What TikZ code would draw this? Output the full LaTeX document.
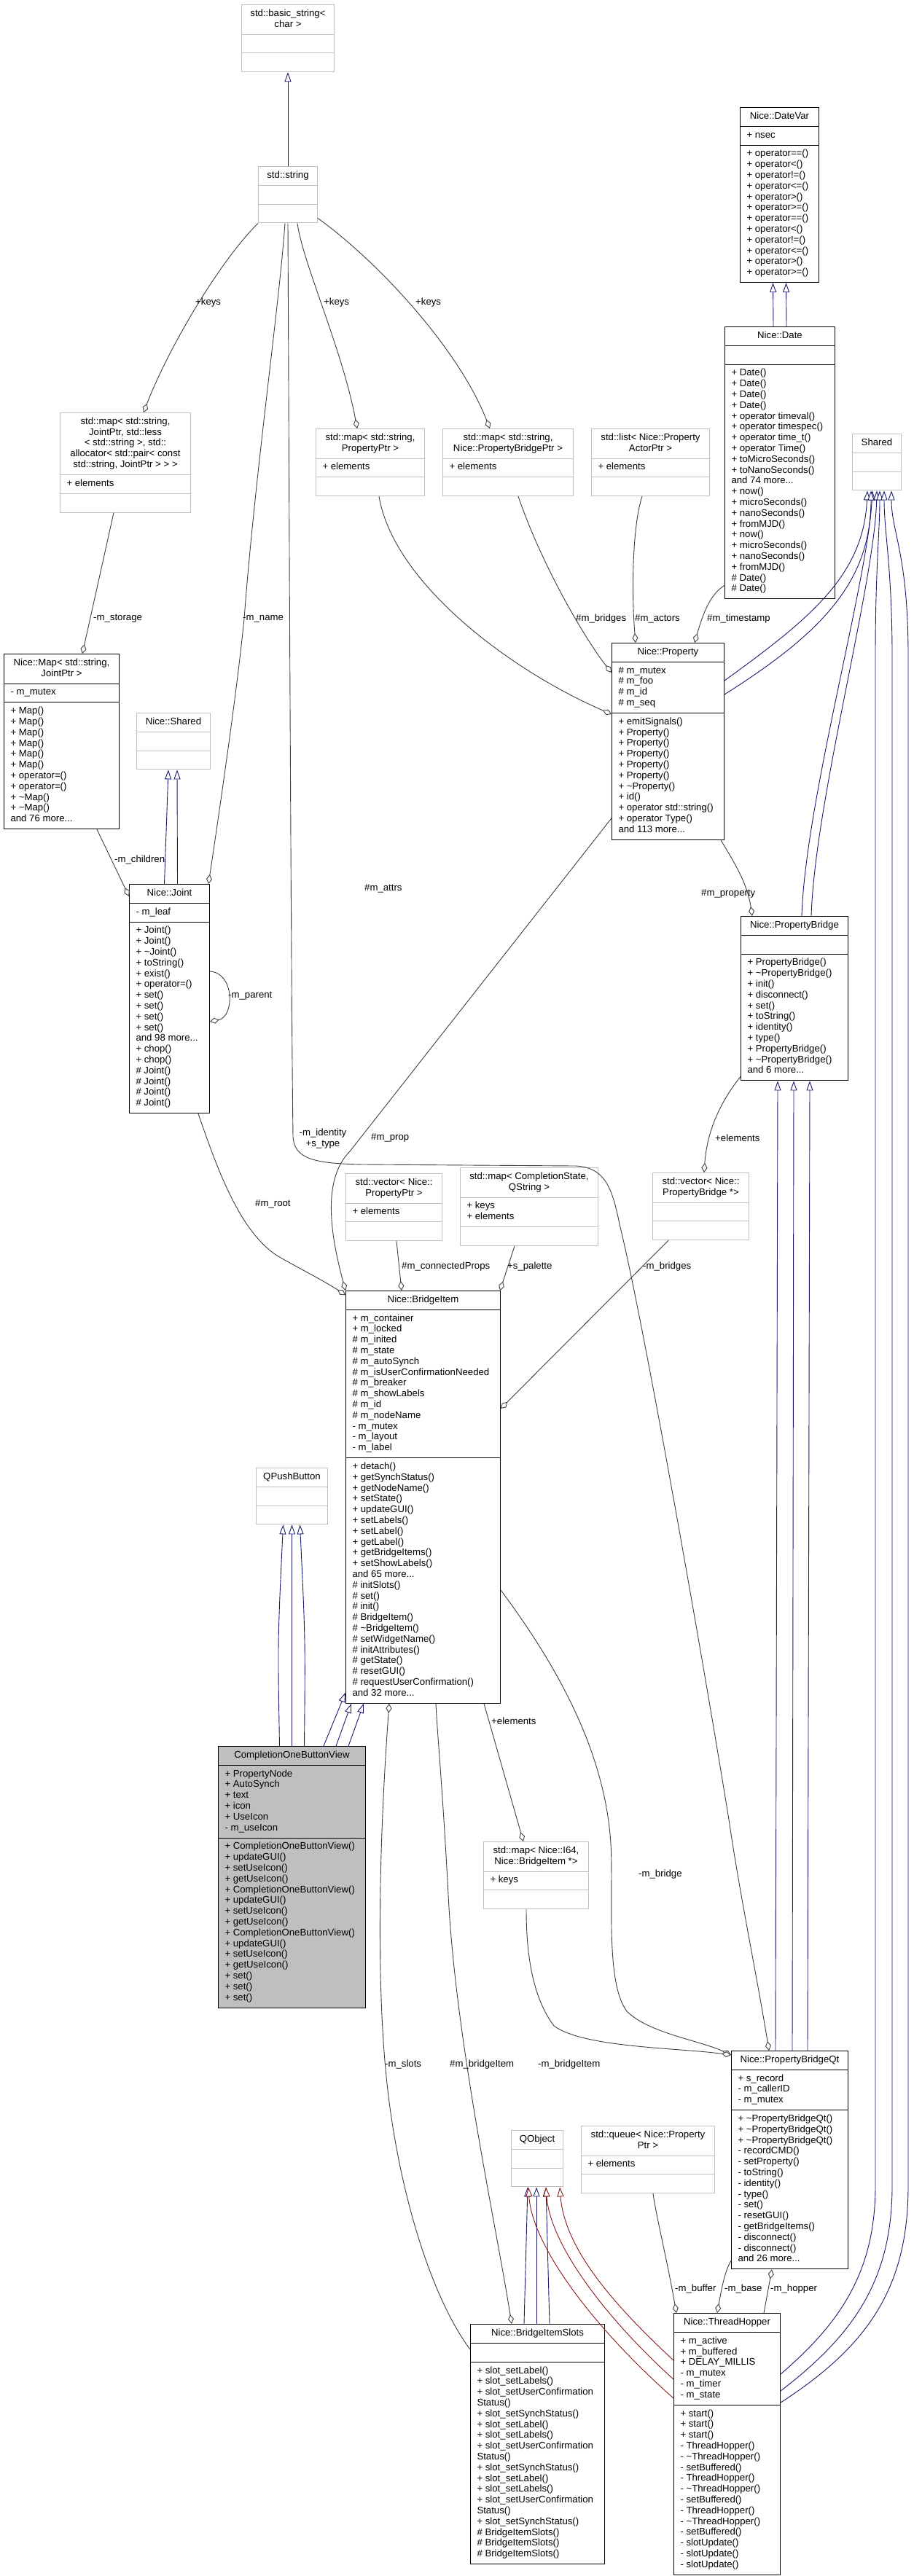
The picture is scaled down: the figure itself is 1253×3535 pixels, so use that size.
\documentclass[tikz,border=0pt]{standalone}
\usepackage{fontspec}
\newfontfamily\dxfont{Liberation Sans}
\usepackage{tikz}
\usetikzlibrary{arrows.meta, shapes.multipart, calc}

\definecolor{edgegray}{RGB}{64,64,64}
\definecolor{boxgray}{RGB}{191,191,191}
\definecolor{inhblue}{RGB}{25,25,112}
\definecolor{privred}{RGB}{139,26,26}

% header and member lists of a class box
\newcommand\hdr[1]{\begin{tabular}{@{}c@{}}#1\end{tabular}}
\newcommand\mbr[1]{\begin{tabular}{@{}l@{}}#1\end{tabular}}

\begin{document}
\begin{tikzpicture}[
  x=1pt, y=-1pt,
  font=\dxfont\fontsize{13.2}{14.8}\selectfont,
  classbox/.style={
    rectangle split, rectangle split parts=3,
    rectangle split part align={center,left,left},
    rectangle split empty part height=10.4pt,
    rectangle split empty part depth=4.4pt,
    draw=black, fill=white, line width=1pt,
    anchor=north west, inner xsep=9pt, inner ysep=5pt
  },
  extbox/.style={classbox, draw=boxgray},
  lbl/.style={anchor=west, inner sep=0pt},
  inh/.style={
    draw=inhblue, line width=0.9pt,
    arrows={-Triangle[fill=white, length=13pt, width=9pt]}
  },
  priv/.style={inh, draw=privred},
  agg/.style={
    draw=edgegray, line width=0.9pt,
    arrows={Diamond[fill=white, length=13pt, width=8pt]-}
  }
]
\useasboundingbox[fill=white] (0,0) rectangle (1253,3535);

% ----- Strings -----
\node[extbox, minimum width=127pt] (bstr) at (331,6) {\hdr{std::basic\_string<\\char >}};
\node[extbox, minimum width=81pt] (str) at (354,228) {\hdr{std::string}};

% ----- Dates -----
\node[classbox, minimum width=108pt] (datevar) at (1015,147)
  {\hdr{Nice::DateVar}
   \nodepart{two}\mbr{+ nsec}
   \nodepart{three}\mbr{+ operator==()\\+ operator<()\\+ operator!=()\\+ operator<=()\\
     + operator>()\\+ operator>=()\\+ operator==()\\+ operator<()\\+ operator!=()\\
     + operator<=()\\+ operator>()\\+ operator>=()}};
\node[classbox, minimum width=151pt] (date) at (994,448)
  {\hdr{Nice::Date}
   \nodepart{three}\mbr{+ Date()\\+ Date()\\+ Date()\\+ Date()\\+ operator timeval()\\
     + operator timespec()\\+ operator time\_t()\\+ operator Time()\\+ toMicroSeconds()\\
     + toNanoSeconds()\\and 74 more...\\+ now()\\+ microSeconds()\\+ nanoSeconds()\\
     + fromMJD()\\+ now()\\+ microSeconds()\\+ nanoSeconds()\\+ fromMJD()\\\# Date()\\\# Date()}};
\node[extbox, minimum width=67pt] (shr) at (1169,595) {\hdr{Shared}};

% ----- Joint tree -----
\node[extbox, minimum width=179pt] (mapjoint) at (82,566)
  {\hdr{std::map< std::string,\\JointPtr, std::less\\< std::string >, std::\\
     allocator< std::pair< const\\std::string, JointPtr > > >}
   \nodepart{two}\mbr{+ elements}};
\node[classbox, minimum width=158pt] (nmap) at (5,897)
  {\hdr{Nice::Map< std::string,\\JointPtr >}
   \nodepart{two}\mbr{- m\_mutex}
   \nodepart{three}\mbr{+ Map()\\+ Map()\\+ Map()\\+ Map()\\+ Map()\\+ Map()\\
     + operator=()\\+ operator=()\\+ \textasciitilde Map()\\+ \textasciitilde Map()\\and 76 more...}};
\node[extbox, minimum width=101pt] (nshared) at (187,978) {\hdr{Nice::Shared}};
\node[classbox, minimum width=110pt] (joint) at (177,1213)
  {\hdr{Nice::Joint}
   \nodepart{two}\mbr{- m\_leaf}
   \nodepart{three}\mbr{+ Joint()\\+ Joint()\\+ \textasciitilde Joint()\\+ toString()\\+ exist()\\
     + operator=()\\+ set()\\+ set()\\+ set()\\+ set()\\and 98 more...\\+ chop()\\+ chop()\\
     \# Joint()\\\# Joint()\\\# Joint()\\\# Joint()}};

% ----- Property -----
\node[extbox, minimum width=149pt] (mappp) at (433,588)
  {\hdr{std::map< std::string,\\PropertyPtr >}
   \nodepart{two}\mbr{+ elements}};
\node[extbox, minimum width=179pt] (mappb) at (607,588)
  {\hdr{std::map< std::string,\\Nice::PropertyBridgePtr >}
   \nodepart{two}\mbr{+ elements}};
\node[extbox, minimum width=162pt] (lstact) at (811,588)
  {\hdr{std::list< Nice::Property\\ActorPtr >}
   \nodepart{two}\mbr{+ elements}};
\node[classbox, minimum width=154pt] (prop) at (839,882)
  {\hdr{Nice::Property}
   \nodepart{two}\mbr{\# m\_mutex\\\# m\_foo\\\# m\_id\\\# m\_seq}
   \nodepart{three}\mbr{+ emitSignals()\\+ Property()\\+ Property()\\+ Property()\\+ Property()\\
     + Property()\\+ \textasciitilde Property()\\+ id()\\+ operator std::string()\\
     + operator Type()\\and 113 more...}};
\node[classbox, minimum width=147pt] (pbridge) at (1016,1257)
  {\hdr{Nice::PropertyBridge}
   \nodepart{three}\mbr{+ PropertyBridge()\\+ \textasciitilde PropertyBridge()\\+ init()\\
     + disconnect()\\+ set()\\+ toString()\\+ identity()\\+ type()\\+ PropertyBridge()\\
     + \textasciitilde PropertyBridge()\\and 6 more...}};

% ----- BridgeItem -----
\node[extbox, minimum width=132pt] (vecpp) at (474,1610)
  {\hdr{std::vector< Nice::\\PropertyPtr >}
   \nodepart{two}\mbr{+ elements}};
\node[extbox, minimum width=189pt] (mapcs) at (631,1602)
  {\hdr{std::map< CompletionState,\\QString >}
   \nodepart{two}\mbr{+ keys\\+ elements}};
\node[extbox, minimum width=132pt] (vecpb) at (895,1609)
  {\hdr{std::vector< Nice::\\PropertyBridge *>}};
\node[classbox, minimum width=212pt] (bitem) at (474,1771)
  {\hdr{Nice::BridgeItem}
   \nodepart{two}\mbr{+ m\_container\\+ m\_locked\\\# m\_inited\\\# m\_state\\\# m\_autoSynch\\
     \# m\_isUserConfirmationNeeded\\\# m\_breaker\\\# m\_showLabels\\\# m\_id\\\# m\_nodeName\\
     - m\_mutex\\- m\_layout\\- m\_label}
   \nodepart{three}\mbr{+ detach()\\+ getSynchStatus()\\+ getNodeName()\\+ setState()\\
     + updateGUI()\\+ setLabels()\\+ setLabel()\\+ getLabel()\\+ getBridgeItems()\\
     + setShowLabels()\\and 65 more...\\\# initSlots()\\\# set()\\\# init()\\\# BridgeItem()\\
     \# \textasciitilde BridgeItem()\\\# setWidgetName()\\\# initAttributes()\\\# getState()\\
     \# resetGUI()\\\# requestUserConfirmation()\\and 32 more...}};
\node[extbox, minimum width=98pt] (qpush) at (351,2014) {\hdr{QPushButton}};
\node[classbox, fill=boxgray, minimum width=202pt] (cobv) at (299,2396)
  {\hdr{CompletionOneButtonView}
   \nodepart{two}\mbr{+ PropertyNode\\+ AutoSynch\\+ text\\+ icon\\+ UseIcon\\- m\_useIcon}
   \nodepart{three}\mbr{+ CompletionOneButtonView()\\+ updateGUI()\\+ setUseIcon()\\+ getUseIcon()\\
     + CompletionOneButtonView()\\+ updateGUI()\\+ setUseIcon()\\+ getUseIcon()\\
     + CompletionOneButtonView()\\+ updateGUI()\\+ setUseIcon()\\+ getUseIcon()\\
     + set()\\+ set()\\+ set()}};
\node[extbox, minimum width=144pt] (mapi64) at (663,2527)
  {\hdr{std::map< Nice::I64,\\Nice::BridgeItem *>}
   \nodepart{two}\mbr{+ keys}};

% ----- Qt side -----
\node[extbox, minimum width=71pt] (qobj) at (701,2923) {\hdr{QObject}};
\node[extbox, minimum width=183pt] (queue) at (797,2917)
  {\hdr{std::queue< Nice::Property\\Ptr >}
   \nodepart{two}\mbr{+ elements}};
\node[classbox, minimum width=160pt] (pbqt) at (1003,2814)
  {\hdr{Nice::PropertyBridgeQt}
   \nodepart{two}\mbr{+ s\_record\\- m\_callerID\\- m\_mutex}
   \nodepart{three}\mbr{+ \textasciitilde PropertyBridgeQt()\\+ \textasciitilde PropertyBridgeQt()\\
     + \textasciitilde PropertyBridgeQt()\\- recordCMD()\\- setProperty()\\- toString()\\- identity()\\
     - type()\\- set()\\- resetGUI()\\- getBridgeItems()\\- disconnect()\\- disconnect()\\and 26 more...}};
\node[classbox, minimum width=184pt] (bslots) at (645,3189)
  {\hdr{Nice::BridgeItemSlots}
   \nodepart{three}\mbr{+ slot\_setLabel()\\+ slot\_setLabels()\\+ slot\_setUserConfirmation\\Status()\\
     + slot\_setSynchStatus()\\+ slot\_setLabel()\\+ slot\_setLabels()\\+ slot\_setUserConfirmation\\
     Status()\\+ slot\_setSynchStatus()\\+ slot\_setLabel()\\+ slot\_setLabels()\\
     + slot\_setUserConfirmation\\Status()\\+ slot\_setSynchStatus()\\\# BridgeItemSlots()\\
     \# BridgeItemSlots()\\\# BridgeItemSlots()}};
\node[classbox, minimum width=146pt] (thop) at (924,3174)
  {\hdr{Nice::ThreadHopper}
   \nodepart{two}\mbr{+ m\_active\\+ m\_buffered\\+ DELAY\_MILLIS\\- m\_mutex\\- m\_timer\\- m\_state}
   \nodepart{three}\mbr{+ start()\\+ start()\\+ start()\\- ThreadHopper()\\- \textasciitilde ThreadHopper()\\
     - setBuffered()\\- ThreadHopper()\\- \textasciitilde ThreadHopper()\\- setBuffered()\\
     - ThreadHopper()\\- \textasciitilde ThreadHopper()\\- setBuffered()\\- slotUpdate()\\
     - slotUpdate()\\- slotUpdate()}};

% ----- Inheritance -----
\draw[inh] (str.north) -- (bstr.south);
\draw[inh] ($(date.north)+(-9,0)$) -- ($(datevar.south)+(-9,0)$);
\draw[inh] ($(date.north)+(9,0)$) -- ($(datevar.south)+(9,0)$);
\draw[inh] ($(joint.north)+(-7,0)$) -- ($(nshared.south)+(-7,0)$);
\draw[inh] ($(joint.north)+(11,0)$) -- ($(nshared.south)+(5,0)$);
\draw[inh] ($(cobv.north)+(-17,0)$) .. controls (381,2250) .. ($(qpush.south)+(-12,0)$);
\draw[inh] (cobv.north) -- (qpush.south);
\draw[inh] ($(cobv.north)+(17,0)$) .. controls (419,2250) .. ($(qpush.south)+(11,0)$);
\draw[inh] ($(cobv.north west)+(145,0)$) -- ($(bitem.south west)+(0,-15)$);
\draw[inh] ($(cobv.north west)+(162,0)$) -- ($(bitem.south west)+(8,0)$);
\draw[inh] ($(cobv.north west)+(179,0)$) -- ($(bitem.south west)+(25,0)$);
\draw[inh] ($(pbqt.north west)+(61,0)$) -- ($(pbridge.south west)+(51,0)$);
\draw[inh] ($(pbqt.north west)+(84,0)$) -- ($(pbridge.south west)+(73,0)$);
\draw[inh] ($(pbqt.north west)+(105,0)$) -- ($(pbridge.south west)+(95,0)$);
\draw[inh] ($(pbridge.north west)+(84,0)$) .. controls (1105,1100) and (1190,800) .. ($(shr.south west)+(28,0)$);
\draw[inh] ($(pbridge.north west)+(97,0)$) .. controls (1118,1100) and (1200,800) .. ($(shr.south west)+(34,0)$);
\draw[inh] ($(prop.north east)+(0,52)$) .. controls (1110,850) and (1185,790) .. ($(shr.south west)+(21,0)$);
\draw[inh] ($(prop.north east)+(0,71)$) .. controls (1125,870) and (1195,800) .. ($(shr.south west)+(26,0)$);
\draw[inh] ($(thop.north east)+(0,84)$) .. controls (1150,3190) and (1201,3120) .. (1201,3000)
  -- (1201,900) .. controls (1201,780) and (1207,730) .. ($(shr.south west)+(38,0)$);
\draw[inh] ($(thop.north east)+(0,107)$) .. controls (1170,3205) and (1224,3130) .. (1224,3000)
  -- (1224,900) .. controls (1224,780) and (1213,730) .. ($(shr.south west)+(44,0)$);
\draw[inh] ($(thop.north east)+(0,123)$) .. controls (1190,3220) and (1246,3140) .. (1246,3000)
  -- (1246,900) .. controls (1246,760) and (1223,730) .. ($(shr.south west)+(54,0)$);
\draw[inh] ($(bslots.north west)+(74,0)$) -- ($(qobj.south west)+(23,0)$);
\draw[inh] ($(bslots.north west)+(91,0)$) -- ($(qobj.south west)+(35,0)$);
\draw[inh] ($(bslots.north west)+(109,0)$) -- ($(qobj.south west)+(48,0)$);
\draw[priv] ($(thop.north west)+(0,65)$) .. controls (850,3170) and (775,3090) .. ($(qobj.south west)+(67,0)$);
\draw[priv] ($(thop.north west)+(0,91)$) .. controls (830,3180) and (755,3080) .. ($(qobj.south west)+(48,0)$);
\draw[priv] ($(thop.north west)+(0,117)$) .. controls (810,3190) and (730,3080) .. ($(qobj.south west)+(24,0)$);

% ----- Members -----
\draw[agg] ($(mapjoint.north west)+(115,0)$) .. controls (230,480) and (300,360) .. (str.south west);
\draw[agg] ($(mappp.north west)+(57,0)$) .. controls (470,480) and (415,360) .. ($(str.south)+(13,0)$);
\draw[agg] ($(mappb.north west)+(65,0)$) .. controls (630,480) and (520,360) .. ($(str.south east)+(0,-7)$);
\draw[agg] ($(joint.north east)+(-2,0)$) .. controls (300,1120) and (325,950) .. (335,849)
  .. controls (350,650) and (383,420) .. ($(str.south)+(-4,0)$);
\draw[agg] ($(pbqt.north west)+(52,0)$) .. controls (1040,2720) and (1015,2600) .. (1000,2497)
  .. controls (960,2250) and (880,1800) .. (850,1680) .. controls (840,1630) and (830,1602) .. (790,1600)
  -- (500,1598) .. controls (430,1597) and (404,1590) .. (402,1560)
  .. controls (400,1400) and (398,1000) .. (str.south);
\draw[agg] ($(nmap.north west)+(108,0)$) -- ($(mapjoint.south west)+(74,0)$);
\draw[agg] ($(joint.north west)+(0,17)$) -- ($(nmap.south west)+(128,0)$);
\draw[agg] ($(joint.north east)+(0,189)$) .. controls (322,1395) and (322,1335) .. ($(joint.north east)+(0,120)$);
\draw[agg] ($(prop.north west)+(0,98)$) .. controls (700,920) and (540,800) .. ($(mappp.south west)+(87,0)$);
\draw[agg] ($(prop.north west)+(0,41)$) .. controls (805,880) and (745,780) .. ($(mappb.south west)+(104,0)$);
\draw[agg] ($(prop.north west)+(33,0)$) .. controls (866,810) and (868,720) .. ($(lstact.south west)+(70,0)$);
\draw[agg] ($(prop.north west)+(114,0)$) .. controls (965,840) and (975,815) .. ($(date.south west)+(0,-19)$);
\draw[agg] ($(pbridge.north west)+(16,0)$) .. controls (1025,1210) and (1005,1180) .. ($(prop.south west)+(150,0)$);
\draw[agg] (bitem.north west) .. controls (455,1700) and (440,1620) .. (480,1580) -- ($(prop.south west)+(0,-30)$);
\draw[agg] ($(bitem.north west)+(0,6)$) .. controls (440,1755) and (400,1735) .. (380,1723)
  .. controls (330,1690) and (300,1610) .. ($(joint.south west)+(95,0)$);
\draw[agg] ($(bitem.north west)+(77,0)$) -- ($(vecpp.south west)+(70,0)$);
\draw[agg] ($(bitem.north east)+(-1,0)$) -- ($(mapcs.south west)+(75,0)$);
\draw[agg] ($(bitem.north east)+(0,162)$) -- ($(vecpb.south west)+(22,0)$);
\draw[agg] ($(vecpb.north west)+(71,0)$) .. controls (970,1550) and (990,1510) .. ($(pbridge.south west)+(0,-6)$);
\draw[agg] ($(mapi64.north west)+(55,0)$) -- ($(bitem.south west)+(190,0)$);
\draw[agg] ($(pbqt.north west)+(0,6)$) .. controls (960,2800) and (890,2790) .. (860,2760)
  .. controls (830,2720) and (842,2600) .. (838,2530) .. controls (830,2400) and (760,2280) .. ($(bitem.north east)+(0,411)$);
\draw[agg] ($(pbqt.north west)+(0,6)$) .. controls (930,2810) and (800,2810) .. (760,2780)
  .. controls (730,2740) and (722,2680) .. ($(mapi64.south west)+(59,0)$);
\draw[agg] ($(bitem.south west)+(60,0)$) .. controls (522,2500) and (515,2700) .. (530,2850)
  .. controls (545,3000) and (590,3150) .. ($(bslots.north west)+(0,35)$);
\draw[agg] ($(bslots.north west)+(57,0)$) .. controls (680,3050) and (625,2800) .. (615,2600)
  .. controls (607,2450) and (600,2380) .. ($(bitem.south west)+(124,0)$);
\draw[agg] ($(thop.north west)+(4,0)$) .. controls (915,3100) and (900,3040) .. ($(queue.south west)+(99,0)$);
\draw[agg] ($(thop.north west)+(60,0)$) .. controls (990,3140) and (995,3115) .. ($(pbqt.south west)+(0,-12)$);
\draw[agg] ($(pbqt.south west)+(56,0)$) -- ($(thop.north west)+(124,0)$);

% ----- Member names -----
\node[lbl] (l-keys1) at (268,415) {+keys};
\node[lbl] (l-keys2) at (444,415) {+keys};
\node[lbl] (l-keys3) at (570,415) {+keys};
\node[lbl] (l-storage) at (128,849) {-m\_storage};
\node[lbl] (l-name) at (333,849) {-m\_name};
\node[lbl] (l-bridges) at (790,849) {\#m\_bridges};
\node[lbl] (l-actors) at (871,849) {\#m\_actors};
\node[lbl] (l-stamp) at (970,849) {\#m\_timestamp};
\node[lbl] (l-children) at (157,1180) {-m\_children};
\node[lbl] (l-parent) at (313,1367) {-m\_parent};
\node[lbl] (l-attrs) at (500,1219) {\#m\_attrs};
\node[lbl] (l-property) at (962,1226) {\#m\_property};
\node[lbl] (l-root) at (350,1652) {\#m\_root};
\node[lbl, anchor=center] (l-identity) at (443,1563) {\hdr{-m\_identity\\+s\_type}};
\node[lbl] (l-prop) at (509,1561) {\#m\_prop};
\node[lbl] (l-pbelems) at (981,1562) {+elements};
\node[lbl] (l-connected) at (551,1738) {\#m\_connectedProps};
\node[lbl] (l-palette) at (696,1738) {+s\_palette};
\node[lbl] (l-mbridges) at (882,1738) {-m\_bridges};
\node[lbl] (l-bielems) at (674,2362) {+elements};
\node[lbl] (l-bridge) at (876,2572) {-m\_bridge};
\node[lbl] (l-slots) at (528,2833) {-m\_slots};
\node[lbl] (l-bitem) at (617,2833) {\#m\_bridgeItem};
\node[lbl] (l-bitem2) at (738,2833) {-m\_bridgeItem};
\node[lbl] (l-buffer) at (926,3141) {-m\_buffer};
\node[lbl] (l-base) at (994,3141) {-m\_base};
\node[lbl] (l-hopper) at (1057,3141) {-m\_hopper};

\end{tikzpicture}
\end{document}
